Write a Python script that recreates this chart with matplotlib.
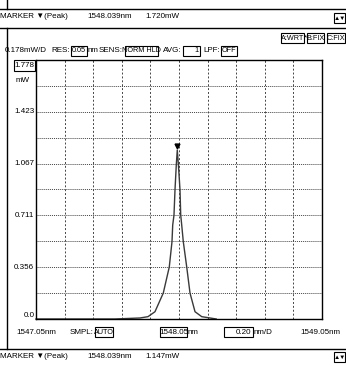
import matplotlib
matplotlib.use("Agg")
import matplotlib.pyplot as plt
from matplotlib.patches import Rectangle
from matplotlib.lines import Line2D

plt.rcParams['font.family'] = ['Liberation Sans', 'DejaVu Sans']

# --- data ---
WL_START, WL_STOP = 1547.05, 1549.05
WL_PER_DIV = 0.20
MW_PER_DIV = 0.1778
MW_TOP = 1.778
Y_LABELS = ["0.0", "0.356", "0.711", "1.067", "1.423"]
Y_LABEL_VALUES = [0.0, 0.356, 0.711, 1.067, 1.423]

# trace (nm, mW); sweep stops around 1548.31 nm
trace_wl = [1547.05, 1547.60, 1547.777, 1547.833, 1547.882, 1547.940, 1547.982,
            1548.001, 1548.006, 1548.015, 1548.022, 1548.031, 1548.038,
            1548.046, 1548.057, 1548.062, 1548.069, 1548.080, 1548.104,
            1548.127, 1548.162, 1548.209, 1548.267, 1548.31]
trace_mw = [0.0, 0.0, 0.007, 0.016, 0.050, 0.178, 0.357,
            0.531, 0.645, 0.714, 0.886, 1.057, 1.160,
            1.057, 0.886, 0.714, 0.645, 0.531, 0.357,
            0.178, 0.050, 0.016, 0.007, 0.0]
peak_wl, peak_mw = 1548.039, 1.160

W, H = 346, 366
fig = plt.figure(figsize=(W / 100, H / 100), dpi=100)
FS = 5.8
FS_BOX = 5.2


def fx(x):
    return x / W


def fy(y):
    return 1 - y / H


def txt(x, y, s, ha="left", fs=FS, **kw):
    fig.text(fx(x), fy(y), s, ha=ha, va="center", fontsize=fs, **kw)


def boxed(x0, x1, y, s, ha="center", h=10, fs=FS_BOX):
    fig.add_artist(Rectangle((fx(x0), fy(y + h / 2)), (x1 - x0) / W, h / H,
                             transform=fig.transFigure, fill=False, ec="black", lw=0.8))
    if ha == "right":
        txt(x1 - 1.5, y, s, ha="right", fs=fs)
    else:
        txt((x0 + x1) / 2, y, s, ha="center", fs=fs)


def hline(y, x0=0, x1=W, lw=1.0):
    fig.add_artist(Line2D([fx(x0), fx(x1)], [fy(y), fy(y)], transform=fig.transFigure,
                          color="black", lw=lw))


def vline(x, y0, y1, lw=1.0):
    fig.add_artist(Line2D([fx(x), fx(x)], [fy(y0), fy(y1)], transform=fig.transFigure,
                          color="black", lw=lw))


# frame lines of the screen
hline(9)
hline(28)
hline(349)
vline(7, 0, 9)
vline(7, 28, 349)

# top status row
txt(0, 17, "MARKER \u25bc(Peak)")
txt(87, 17, "1548.039nm")
txt(145, 17, "1.720mW")
boxed(334, 345, 18, "\u25b2\u25bc", fs=4.5)

# trace buttons
boxed(281, 304, 38, "A:WRT")
txt(305.5, 38, "*", ha="center")
boxed(307, 324, 38, "B:FIX")
boxed(327, 345, 38, "C:FIX")

# settings row
txt(5, 51, "0.178mW/D")
txt(70, 51, "RES:", ha="right")
boxed(71, 87, 51, "0.05")
txt(87.5, 51, "nm")
txt(123, 51, "SENS:", ha="right")
boxed(125, 158, 51, "NORM HLD")
txt(182, 51, "AVG:", ha="right")
boxed(183, 200, 51, "1", ha="right")
txt(220, 51, "LPF:", ha="right")
boxed(221, 237, 51, "OFF")

# plot area
ax = fig.add_axes([fx(36), fy(319), 286 / W, 259 / H])
ax.set_xlim(WL_START, WL_STOP)
ax.set_ylim(0, MW_TOP)
for sp in ax.spines.values():
    sp.set_linewidth(1.0)
    sp.set_color("black")
ax.set_xticks([])
ax.set_yticks([])

n_x = round((WL_STOP - WL_START) / WL_PER_DIV)
for i in range(1, n_x):
    ax.axvline(WL_START + i * WL_PER_DIV, color="#444444", lw=0.7, ls=(0, (2, 2)))
n_y = round(MW_TOP / MW_PER_DIV)
for i in range(1, n_y):
    ax.axhline(i * MW_PER_DIV, color="#444444", lw=0.7, ls=(0, (1, 1)))

ax.plot(trace_wl, trace_mw, color="#3a3a3a", lw=1.0, clip_on=False)
ax.plot([peak_wl], [peak_mw + 0.03], marker="v", ms=3.5, color="black", clip_on=False)

# y labels
ytr = ax.get_yaxis_transform()
for v, s in zip(Y_LABEL_VALUES, Y_LABELS):
    ax.text(-0.006, v, s, transform=ytr, ha="right",
            va="bottom" if v == 0 else "center", fontsize=FS)
boxed(14, 35, 65.5, "1.778", h=11, fs=FS)
txt(23, 80, "mW", ha="center")

# bottom axis row
txt(36.5, 332, "1547.05nm", ha="center")
txt(94, 332, "SMPL:", ha="right")
boxed(95, 113, 332, "AUTO")
boxed(160, 187, 332, "1548.05", fs=FS)
txt(187.5, 332, "nm")
boxed(224, 253, 332, "0.20", ha="right", fs=FS)
txt(253.5, 332, "nm/D")
txt(320, 332, "1549.05nm", ha="center")

# bottom status row
txt(0, 357, "MARKER \u25bc(Peak)")
txt(87, 357, "1548.039nm")
txt(145, 357, "1.147mW")
boxed(334, 345, 357, "\u25b2\u25bc", fs=4.5)

fig.savefig("out.png", dpi=100, facecolor="white")
